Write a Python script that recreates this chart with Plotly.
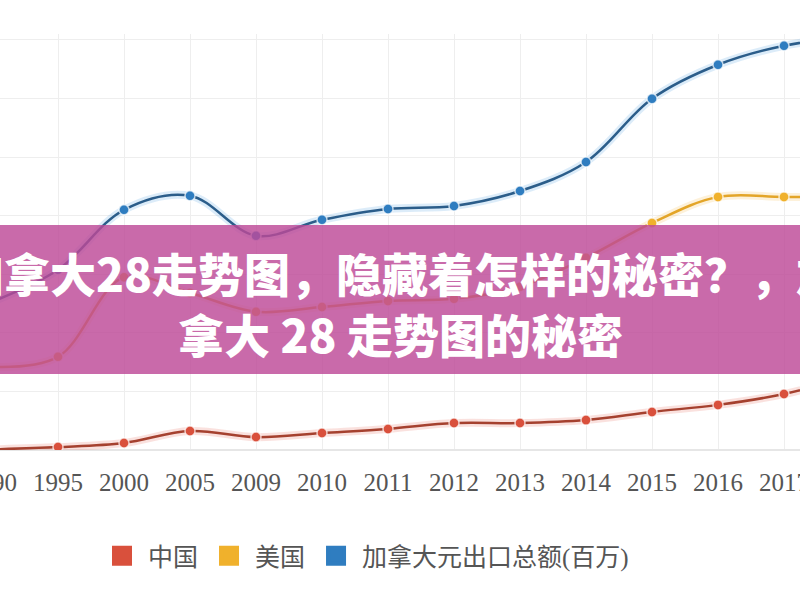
import plotly.graph_objects as go

# values (y in arbitrary units, one gridline = 1000)
years = ["1990", "1995", "2000", "2005", "2009", "2010", "2011",
         "2012", "2013", "2014", "2015", "2016", "2017", "2018"]
china = [10, 50, 120, 325, 220, 290, 360, 460, 460, 510, 650, 770, 955, 1250]
usa = [1420, 1590, 2950, 2680, 2360, 2440, 2545, 2580, 2785, 3280, 3875, 4320, 4320, 4320]
canada = [2530, 3075, 4100, 4340, 3655, 3930, 4115, 4165, 4420, 4915, 5995, 6575, 6900, 7050]
names = ["中国", "美国", "加拿大元出口总额(百万)"]
banner_lines = ["加拿大28走势图，隐藏着怎样的秘密？，加", "拿大 28 走势图的秘密"]

idx = list(range(len(years)))

# the reference is a crop of a wider chart: draw wider and shift it left
SHIFT = 66
W, H = 800 + 2 * SHIFT, 600
STEP = 66          # px per category
X0 = -8 + SHIFT    # px of first category inside the figure
bottom = 450
Y_MAX = 7100
unit = 410 / 7000
top = bottom - Y_MAX * unit


def py(px):
    # page row -> paper fraction
    return (bottom - px) / (bottom - top)


def px_(x):
    # page column -> paper fraction
    return (x + SHIFT) / W


fig = go.Figure()

styles = [
    (china, "#d9503c", "#a5412f", "rgba(230,90,70,0.18)"),
    (usa, "#f0b12c", "#e3a528", "rgba(245,180,50,0.18)"),
    (canada, "#2f7dc0", "#2b5d8a", "rgba(60,150,220,0.18)"),
]

for (vals, mcol, lcol, glow), name in zip(styles, names):
    # soft halo under the line
    fig.add_trace(go.Scatter(
        x=idx, y=vals, mode="lines", line=dict(color=glow, width=8, shape="spline"),
        hoverinfo="skip", showlegend=False,
    ))
    fig.add_trace(go.Scatter(
        x=idx, y=vals, mode="lines+markers", name=name, showlegend=False,
        line=dict(color=lcol, width=2.5, shape="spline"),
        marker=dict(size=10, color=mcol, line=dict(color="rgba(255,255,255,0.7)", width=1.5)),
    ))

# legend entries as squares
for (vals, mcol, lcol, glow), name in zip(styles, names):
    fig.add_trace(go.Scatter(
        x=[None], y=[None], mode="markers", name=name,
        marker=dict(symbol="square", size=16, color=mcol, line=dict(color=mcol, width=4)),
    ))

fig.add_shape(
    type="rect", xref="paper", yref="paper", x0=0, x1=1, y0=py(374), y1=py(225),
    fillcolor="rgba(189,73,151,0.82)", line=dict(width=0), layer="above",
)
for text, row in zip(banner_lines, [272, 333]):
    fig.add_annotation(
        text=text, xref="paper", yref="paper", x=0.5, y=py(row),
        xanchor="center", yanchor="middle", showarrow=False,
        font=dict(family="Noto Sans CJK SC", size=46, color="white", weight=900),
    )

fig.update_layout(
    width=W, height=H,
    margin=dict(l=0, r=0, t=top, b=H - bottom),
    paper_bgcolor="white", plot_bgcolor="white",
    showlegend=True,
    legend=dict(
        orientation="h", x=px_(96), xanchor="left", y=py(556), yanchor="middle",
        font=dict(family="Liberation Serif, Noto Sans CJK SC", size=25, color="#555"),
        itemwidth=42, itemclick=False,
    ),
)
fig.update_xaxes(
    tickvals=idx, ticktext=years,
    range=[-X0 / STEP, (W - X0) / STEP], automargin=False,
    showgrid=True, gridcolor="#eeeeee", zeroline=False, showline=False, ticks="",
    tickfont=dict(family="Liberation Serif", size=25, color="#555"),
    ticklabelstandoff=15, ticklabeloverflow="allow",
)
fig.update_yaxes(
    range=[0, Y_MAX], tickvals=list(range(0, 7001, 1000)), showticklabels=False,
    automargin=False,
    showgrid=True, gridcolor="#eeeeee", zeroline=True, zerolinecolor="#e6e6e6",
)

post = ("document.documentElement.style.overflow='hidden';"
        "document.body.style.margin='0';document.body.style.overflow='hidden';"
        "document.getElementById('{plot_id}').style.marginLeft='-%dpx';" % SHIFT)
fig.write_html("out.html", post_script=post, config={"displayModeBar": False})
